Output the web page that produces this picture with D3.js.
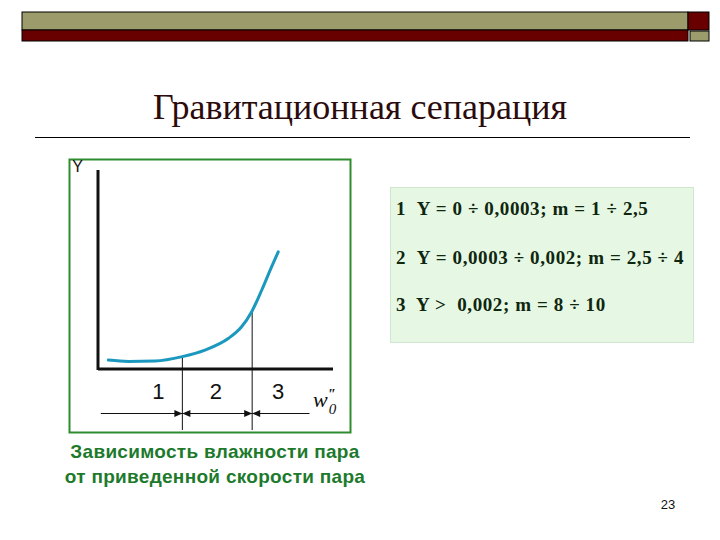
<!DOCTYPE html>
<html lang="ru">
<head>
<meta charset="utf-8">
<title>Гравитационная сепарация</title>
<script src="https://cdnjs.cloudflare.com/ajax/libs/d3/7.8.5/d3.min.js"></script>
<style>
  body { margin: 0; background: #fff; }
  svg { display: block; }
</style>
</head>
<body>
<script>
// curve: steam humidity Y vs reduced steam velocity (arbitrary units)
var curveX = [0.44, 1.29, 2.43, 3.59, 4.55, 5.54, 6.11, 6.54, 6.97, 7.39, 7.67];
var curveY = [0.45, 0.38, 0.40, 0.62, 0.95, 1.53, 2.12, 2.88, 3.97, 5.14, 5.89];

// zone boundaries and labels
var zoneBounds = [3.59, 6.56];
var zoneTopY = [0.62, 2.9];
var zoneLabels = ["1", "2", "3"];
var zoneLabelX = [2.57, 5.02, 7.66];
var arrowExtent = [0.12, 9.0];

var boxLines = [
  "1\u00a0\u00a0Y = 0 \u00f7 0,0003; m = 1 \u00f7 2,5",
  "2\u00a0\u00a0Y = 0,0003 \u00f7 0,002; m = 2,5 \u00f7 4",
  "3\u00a0 Y >\u00a0 0,002; m = 8 \u00f7 10"
];
var captionLines = ["Зависимость влажности пара", "от приведенной скорости пара"];
var title = "Гравитационная сепарация";
var pageNo = "23";

var W = 720, H = 540;
var serif = "'Liberation Serif', 'Times New Roman', 'DejaVu Serif', serif";
var sans = "'Liberation Sans', Arial, sans-serif";

var svg = d3.select("body").append("svg")
    .attr("width", W)
    .attr("height", H);

// top decoration bar
svg.append("rect").attr("x", 22).attr("y", 12).attr("width", 666).attr("height", 18)
    .attr("fill", "#9b9b6b").attr("stroke", "#000").attr("stroke-width", 1);
svg.append("rect").attr("x", 22).attr("y", 30).attr("width", 666).attr("height", 11)
    .attr("fill", "#690000").attr("stroke", "#000").attr("stroke-width", 1);
svg.append("rect").attr("x", 688).attr("y", 12).attr("width", 21).attr("height", 18)
    .attr("fill", "#690000").attr("stroke", "#000").attr("stroke-width", 1);
svg.append("rect").attr("x", 690).attr("y", 31).attr("width", 19).attr("height", 10)
    .attr("fill", "#9b9b6b").attr("stroke", "#000").attr("stroke-width", 1);

// title
svg.append("text")
    .attr("x", 360).attr("y", 119)
    .attr("text-anchor", "middle")
    .style("font-family", serif)
    .style("font-size", "36px")
    .style("fill", "#2b0b0b")
    .text(title);
svg.append("line").attr("x1", 35).attr("x2", 690).attr("y1", 137.5).attr("y2", 137.5)
    .attr("stroke", "#000").attr("stroke-width", 1);

// chart frame
svg.append("rect").attr("x", 69.5).attr("y", 159.5).attr("width", 281).attr("height", 273)
    .attr("fill", "none").attr("stroke", "#2e8b2e").attr("stroke-width", 2);

var x = d3.scaleLinear().domain([0, 10]).range([98, 333]);
var y = d3.scaleLinear().domain([0, 10]).range([369, 170]);

var g = svg.append("g");

// axes (plain lines, no ticks)
g.append("line").attr("x1", x(0)).attr("x2", x(0)).attr("y1", y(10)).attr("y2", y(0) + 1)
    .attr("stroke", "#111").attr("stroke-width", 3);
g.append("line").attr("x1", x(0)).attr("x2", x(10)).attr("y1", y(0)).attr("y2", y(0))
    .attr("stroke", "#111").attr("stroke-width", 3);

g.append("text").attr("x", 77.5).attr("y", 172).attr("text-anchor", "middle")
    .style("font-family", sans)
    .style("font-size", "16px").style("fill", "#111").text("Y");

// zone boundary lines
var arrowRow = 413.5, lineBottom = 430;
g.selectAll(".zone").data(zoneBounds).enter().append("line")
    .attr("x1", function(d) { return x(d); })
    .attr("x2", function(d) { return x(d); })
    .attr("y1", function(d, i) { return y(zoneTopY[i]); })
    .attr("y2", lineBottom)
    .attr("stroke", "#111").attr("stroke-width", 1);

// curve
var pts = curveX.map(function(v, i) { return [v, curveY[i]]; });
var line = d3.line()
    .x(function(d) { return x(d[0]); })
    .y(function(d) { return y(d[1]); })
    .curve(d3.curveMonotoneX);
g.append("path").datum(pts)
    .attr("d", line)
    .attr("fill", "none")
    .attr("stroke", "#1b98be")
    .attr("stroke-width", 3)
    .attr("stroke-linecap", "round");

// zone numbers
g.selectAll(".zlab").data(zoneLabels).enter().append("text")
    .attr("x", function(d, i) { return x(zoneLabelX[i]); })
    .attr("y", 399)
    .attr("text-anchor", "middle")
    .style("font-family", sans)
    .style("font-size", "22px")
    .style("fill", "#111")
    .text(function(d) { return d; });

// w0'' label
var wl = g.append("text").attr("x", 313).attr("y", 407)
    .style("font-family", serif)
    .style("font-style", "italic")
    .style("font-size", "22px")
    .style("fill", "#111");
wl.append("tspan").text("w");
wl.append("tspan").attr("dx", 1).attr("dy", 7).style("font-size", "15px").text("0");
wl.append("tspan").attr("dx", -8).attr("dy", -15).style("font-size", "14px").style("font-weight", "bold").text("\u2033");

// arrows between zones
var edges = [arrowExtent[0]].concat(zoneBounds).concat([arrowExtent[1]]);
function arrowHead(px, dir) {
  // dir = +1 pointing right, -1 pointing left; tip at px
  var p = [[px, arrowRow], [px - dir * 8, arrowRow - 3.5], [px - dir * 8, arrowRow + 3.5]];
  g.append("path").attr("d", "M" + p.join("L") + "Z").attr("fill", "#111");
}
for (var i = 0; i < edges.length - 1; i++) {
  g.append("line").attr("x1", x(edges[i])).attr("x2", x(edges[i + 1]))
      .attr("y1", arrowRow).attr("y2", arrowRow)
      .attr("stroke", "#111").attr("stroke-width", 1);
}
zoneBounds.forEach(function(b) {
  arrowHead(x(b), 1);
  arrowHead(x(b), -1);
});

// info box
svg.append("rect").attr("x", 390.5).attr("y", 187.5).attr("width", 303).attr("height", 155)
    .attr("fill", "#e6f8e4").attr("stroke", "#cfe6cf").attr("stroke-width", 1);
svg.selectAll(".bl").data(boxLines).enter().append("text")
    .attr("x", 396)
    .attr("y", function(d, i) { return [215, 264, 311][i]; })
    .style("font-family", serif)
    .style("font-weight", "bold")
    .style("font-size", "19px")
    .style("letter-spacing", "0.6px")
    .style("fill", "#0f260f")
    .style("white-space", "pre")
    .text(function(d) { return d; });

// caption
svg.selectAll(".cap").data(captionLines).enter().append("text")
    .attr("x", 215)
    .attr("y", function(d, i) { return 458 + i * 25; })
    .attr("text-anchor", "middle")
    .style("font-family", sans)
    .style("font-weight", "bold")
    .style("font-size", "19px")
    .style("letter-spacing", "0.3px")
    .style("fill", "#1d7a2c")
    .text(function(d) { return d; });

// page number
svg.append("text").attr("x", 668).attr("y", 509).attr("text-anchor", "middle")
    .style("font-family", sans)
    .style("font-size", "13px").style("fill", "#111").text(pageNo);
</script>
</body>
</html>
